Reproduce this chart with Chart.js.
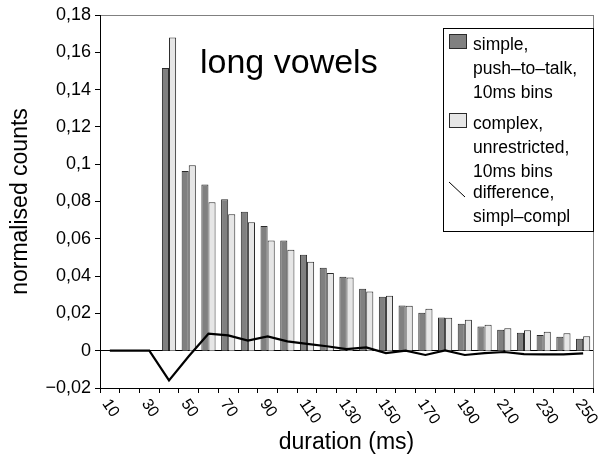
<!DOCTYPE html>
<html lang="en">
<head>
    <meta charset="UTF-8">
    <title>long vowels</title>
    <script src="https://cdn.jsdelivr.net/npm/chart.js"></script>
    <style>
        body { margin: 0; background: #fff; }
    </style>
</head>
<body>

<canvas id="durChart" width="598" height="456"></canvas>

<script>
    const durations = [10, 20, 30, 40, 50, 60, 70, 80, 90, 100, 110, 120, 130,
        140, 150, 160, 170, 180, 190, 200, 210, 220, 230, 240, 250];
    // simple, push-to-talk
    const simpleCounts = [null, null, null, 0.1516, 0.0964, 0.0891, 0.0812, 0.0745, 0.0668, 0.0591,
        0.0514, 0.0445, 0.0396, 0.0332, 0.0289, 0.0243, 0.0204, 0.0178, 0.0145, 0.0130,
        0.0113, 0.0096, 0.0084, 0.0075, 0.0064];
    // complex, unrestricted
    const complexCounts = [null, null, null, 0.1679, 0.0994, 0.0796, 0.0732, 0.0689, 0.0591, 0.0541,
        0.0477, 0.0417, 0.0393, 0.0318, 0.0295, 0.0241, 0.0225, 0.0177, 0.0166, 0.0139,
        0.0121, 0.0110, 0.0102, 0.0093, 0.0078];
    // difference simpl - compl
    const diffCounts = [0, 0, 0, -0.0159, -0.0030, 0.0091, 0.0082, 0.0054, 0.0077, 0.0050,
        0.0037, 0.0024, 0.0009, 0.0018, -0.0013, 0.0000, -0.0023, 0.0002, -0.0023, -0.0013,
        -0.0007, -0.0018, -0.0020, -0.0020, -0.0014];
    const xTickLabels = durations.map((d, i) => i % 2 === 0 ? String(d) : '');
    const legendLines = [
        ['simple,', 'push\u2013to\u2013talk,', '10ms bins'],
        ['complex,', 'unrestricted,', '10ms bins'],
        ['difference,', 'simpl\u2013compl']
    ];

    const FONT = "'Liberation Sans', Arial, sans-serif";
    Chart.defaults.font.family = FONT;
    Chart.defaults.color = '#000';

    const fmtTick = v => {
        const s = String(+v.toFixed(2)).replace('.', ',');
        return s.replace('-', '\u2212');
    };

    const extras = {
        id: 'extras',
        afterDraw(chart) {
            const {ctx, chartArea: a, scales: {x}} = chart;
            ctx.save();

            // plot frame, right side
            ctx.strokeStyle = '#808080';
            ctx.lineWidth = 1;
            ctx.beginPath();
            ctx.moveTo(a.right + 0.5, a.top);
            ctx.lineTo(a.right + 0.5, a.bottom);
            ctx.stroke();

            // x tick labels, slanted
            ctx.fillStyle = '#000';
            ctx.font = '16px ' + FONT;
            ctx.textAlign = 'left';
            ctx.textBaseline = 'middle';
            xTickLabels.forEach((lab, i) => {
                if (!lab) return;
                ctx.save();
                ctx.translate(x.getPixelForValue(i) - 4.5, a.bottom + 13);
                ctx.rotate(55 * Math.PI / 180);
                ctx.fillText(lab, 0, 0);
                ctx.restore();
            });

            // inner title
            ctx.font = '34px ' + FONT;
            ctx.textBaseline = 'alphabetic';
            ctx.fillText('long vowels', 200, 73);

            // legend
            const bx = 443, by = 28, bw = 150, bh = 203;
            ctx.fillStyle = '#fff';
            ctx.fillRect(bx, by, bw, bh);
            ctx.strokeStyle = '#000';
            ctx.strokeRect(bx + 0.5, by + 0.5, bw, bh);

            const ds = chart.data.datasets;
            const rows = [50, 129, 198];
            ctx.font = '17.5px ' + FONT;
            ds.forEach((d, k) => {
                const top = rows[k];
                if (d.type === 'line') {
                    ctx.strokeStyle = d.borderColor;
                    ctx.lineWidth = 1;
                    ctx.beginPath();
                    ctx.moveTo(449, top - 16);
                    ctx.lineTo(465, top - 1);
                    ctx.stroke();
                } else {
                    ctx.fillStyle = d.backgroundColor;
                    ctx.fillRect(449, top - 16, 18, 15);
                    ctx.strokeStyle = d.borderColor;
                    ctx.lineWidth = 1;
                    ctx.strokeRect(449.5, top - 15.5, 17, 14);
                }
                ctx.fillStyle = '#000';
                legendLines[k].forEach((t, j) => ctx.fillText(t, 473, top + j * 24));
            });

            ctx.restore();
        }
    };

    new Chart(document.getElementById('durChart'), {
        type: 'bar',
        data: {
            labels: durations,
            datasets: [{
                label: legendLines[0].join(' '),
                data: simpleCounts,
                backgroundColor: '#808080',
                borderColor: '#2a2a2a',
                borderWidth: 1,
                categoryPercentage: 0.72,
                barPercentage: 1,
                order: 1
            }, {
                label: legendLines[1].join(' '),
                data: complexCounts,
                backgroundColor: '#e6e6e6',
                borderColor: '#2a2a2a',
                borderWidth: 1,
                categoryPercentage: 0.72,
                barPercentage: 1,
                order: 1
            }, {
                type: 'line',
                label: legendLines[2].join(' '),
                data: diffCounts,
                borderColor: '#000',
                borderWidth: 2.2,
                pointRadius: 0,
                tension: 0,
                fill: false,
                order: 0
            }]
        },
        options: {
            responsive: false,
            animation: false,
            layout: {padding: {top: 15, right: 5, left: 0, bottom: 0}},
            plugins: {
                legend: {display: false},
                tooltip: {enabled: false}
            },
            scales: {
                x: {
                    offset: true,
                    grid: {offset: true, drawOnChartArea: false, color: '#000', tickLength: 5},
                    border: {color: '#000'},
                    ticks: {display: false},
                    title: {
                        display: true,
                        text: 'duration (ms)',
                        font: {size: 23},
                        padding: {top: 0, bottom: 0}
                    },
                    afterFit: s => { s.height = 68; }
                },
                y: {
                    min: -0.02,
                    max: 0.18,
                    ticks: {
                        stepSize: 0.02,
                        callback: fmtTick,
                        font: {size: 18},
                        padding: 4
                    },
                    grid: {
                        color: c => {
                            if (!c.tick) return 'transparent';
                            if (Math.abs(c.tick.value) < 1e-9) return '#000';
                            if (Math.abs(c.tick.value - 0.18) < 1e-9) return '#808080';
                            return 'transparent';
                        },
                        tickColor: '#000',
                        tickLength: 5
                    },
                    border: {color: '#000'},
                    title: {
                        display: true,
                        text: 'normalised counts',
                        font: {size: 23},
                        padding: {top: 7, bottom: 0}
                    },
                    afterFit: s => { s.width = 100; }
                }
            }
        },
        plugins: [extras]
    });
</script>

</body>
</html>
